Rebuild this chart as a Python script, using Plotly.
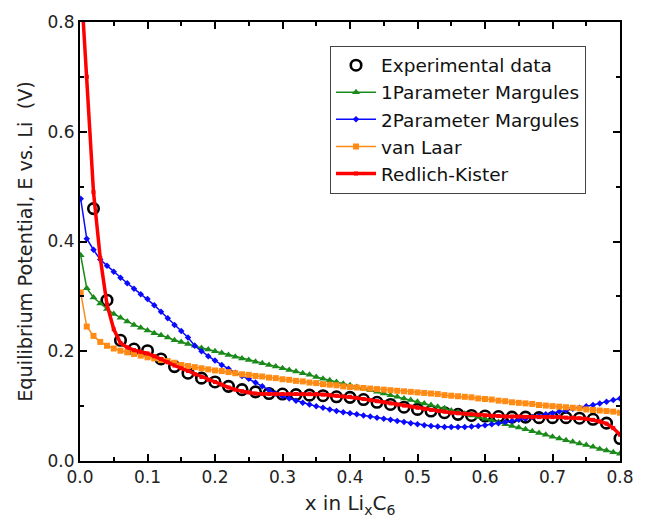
import plotly.graph_objects as go

# Experimental data
x_exp = [0.02, 0.04, 0.06, 0.08, 0.10, 0.12, 0.14, 0.16, 0.18, 0.20,
         0.22, 0.24, 0.26, 0.28, 0.30, 0.32, 0.34, 0.36, 0.38, 0.40,
         0.42, 0.44, 0.46, 0.48, 0.50, 0.52, 0.54, 0.56, 0.58, 0.60,
         0.62, 0.64, 0.66, 0.68, 0.70, 0.72, 0.74, 0.76, 0.78, 0.80]
y_exp = [0.460, 0.293, 0.220, 0.204, 0.201, 0.186, 0.172, 0.160, 0.151, 0.144,
         0.136, 0.130, 0.126, 0.123, 0.122, 0.121, 0.120, 0.119, 0.117, 0.116,
         0.112, 0.107, 0.103, 0.098, 0.094, 0.091, 0.088, 0.085, 0.083, 0.082,
         0.081, 0.080, 0.080, 0.079, 0.079, 0.079, 0.078, 0.076, 0.069, 0.041]

# Model grid
x_model = [0.001, 0.01, 0.02, 0.03, 0.04, 0.05, 0.06, 0.07, 0.08, 0.09,
           0.10, 0.11, 0.12, 0.13, 0.14, 0.15, 0.16, 0.17, 0.18, 0.19,
           0.20, 0.21, 0.22, 0.23, 0.24, 0.25, 0.26, 0.27, 0.28, 0.29,
           0.30, 0.31, 0.32, 0.33, 0.34, 0.35, 0.36, 0.37, 0.38, 0.39,
           0.40, 0.41, 0.42, 0.43, 0.44, 0.45, 0.46, 0.47, 0.48, 0.49,
           0.50, 0.51, 0.52, 0.53, 0.54, 0.55, 0.56, 0.57, 0.58, 0.59,
           0.60, 0.61, 0.62, 0.63, 0.64, 0.65, 0.66, 0.67, 0.68, 0.69,
           0.70, 0.71, 0.72, 0.73, 0.74, 0.75, 0.76, 0.77, 0.78, 0.79,
           0.80]

y_margules1 = [0.375, 0.315, 0.298, 0.287, 0.277, 0.268, 0.261, 0.254, 0.248, 0.243,
               0.238, 0.233, 0.229, 0.225, 0.220, 0.217, 0.213, 0.210, 0.206, 0.203,
               0.200, 0.197, 0.193, 0.190, 0.187, 0.184, 0.181, 0.178, 0.175, 0.172,
               0.169, 0.166, 0.163, 0.160, 0.157, 0.153, 0.150, 0.147, 0.144, 0.141,
               0.138, 0.135, 0.132, 0.129, 0.126, 0.123, 0.120, 0.117, 0.114, 0.111,
               0.108, 0.105, 0.102, 0.099, 0.096, 0.092, 0.089, 0.086, 0.083, 0.080,
               0.077, 0.074, 0.071, 0.067, 0.064, 0.061, 0.058, 0.054, 0.051, 0.048,
               0.044, 0.041, 0.038, 0.035, 0.032, 0.029, 0.026, 0.022, 0.019, 0.016,
               0.013]

y_margules2 = [0.478, 0.405, 0.385, 0.367, 0.356, 0.345, 0.334, 0.324, 0.314, 0.304,
               0.295, 0.284, 0.272, 0.260, 0.248, 0.237, 0.225, 0.210, 0.200, 0.191,
               0.183, 0.175, 0.168, 0.161, 0.155, 0.150, 0.143, 0.136, 0.129, 0.123,
               0.118, 0.114, 0.110, 0.106, 0.103, 0.100, 0.097, 0.094, 0.091, 0.089,
               0.087, 0.085, 0.083, 0.081, 0.079, 0.077, 0.075, 0.073, 0.071, 0.069,
               0.067, 0.065, 0.064, 0.063, 0.062, 0.062, 0.062, 0.062, 0.063, 0.064,
               0.065, 0.067, 0.069, 0.071, 0.073, 0.075, 0.077, 0.080, 0.082, 0.085,
               0.087, 0.090, 0.092, 0.095, 0.097, 0.100, 0.102, 0.105, 0.108, 0.111,
               0.114]

y_vanlaar = [0.307, 0.245, 0.228, 0.217, 0.210, 0.205, 0.201, 0.198, 0.195, 0.192,
             0.189, 0.187, 0.184, 0.182, 0.179, 0.175, 0.173, 0.171, 0.169, 0.167,
             0.165, 0.164, 0.162, 0.160, 0.158, 0.157, 0.155, 0.154, 0.152, 0.151,
             0.149, 0.148, 0.146, 0.145, 0.143, 0.142, 0.140, 0.139, 0.138, 0.136,
             0.135, 0.134, 0.133, 0.132, 0.131, 0.130, 0.129, 0.128, 0.127, 0.126,
             0.125, 0.124, 0.123, 0.122, 0.120, 0.119, 0.118, 0.117, 0.116, 0.114,
             0.113, 0.112, 0.110, 0.109, 0.107, 0.106, 0.105, 0.104, 0.102, 0.101,
             0.100, 0.099, 0.098, 0.097, 0.096, 0.094, 0.093, 0.092, 0.091, 0.090,
             0.088]

y_redlich = [0.880, 0.700, 0.490, 0.370, 0.285, 0.240, 0.215, 0.207, 0.202, 0.199,
             0.196, 0.191, 0.186, 0.180, 0.174, 0.169, 0.164, 0.158, 0.153, 0.148,
             0.144, 0.139, 0.134, 0.130, 0.127, 0.125, 0.123, 0.122, 0.122, 0.122,
             0.122, 0.122, 0.122, 0.122, 0.122, 0.122, 0.121, 0.120, 0.119, 0.118,
             0.117, 0.115, 0.113, 0.111, 0.109, 0.107, 0.105, 0.103, 0.101, 0.099,
             0.097, 0.095, 0.093, 0.091, 0.090, 0.088, 0.087, 0.086, 0.085, 0.084,
             0.083, 0.082, 0.082, 0.081, 0.081, 0.081, 0.080, 0.080, 0.080, 0.080,
             0.080, 0.080, 0.079, 0.079, 0.078, 0.077, 0.075, 0.072, 0.068, 0.060,
             0.048]

x_ticks = [0.0, 0.1, 0.2, 0.3, 0.4, 0.5, 0.6, 0.7, 0.8]
y_ticks = [0.0, 0.2, 0.4, 0.6, 0.8]

FONT = "DejaVu Sans, Arial, sans-serif"

fig = go.Figure()
fig.add_trace(go.Scatter(
    x=x_exp, y=y_exp, mode="markers", name="Experimental data",
    marker=dict(symbol="circle-open", size=10.5, color="black", line=dict(width=2.6, color="black"))))
fig.add_trace(go.Scatter(
    x=x_model, y=y_margules1, mode="lines+markers", name="1Parameter Margules",
    line=dict(color="#1a8a1a", width=1.5),
    marker=dict(symbol="triangle-up", size=7, color="#1a8a1a")))
fig.add_trace(go.Scatter(
    x=x_model, y=y_margules2, mode="lines+markers", name="2Parameter Margules",
    line=dict(color="#0a0aff", width=1.5),
    marker=dict(symbol="diamond", size=5, color="#0a0aff")))
fig.add_trace(go.Scatter(
    x=x_model, y=y_vanlaar, mode="lines+markers", name="van Laar",
    line=dict(color="#ff8a14", width=1.5),
    marker=dict(symbol="square", size=6, color="#ff8a14")))
fig.add_trace(go.Scatter(
    x=x_model, y=y_redlich, mode="lines+markers", name="Redlich-Kister",
    line=dict(color="#ff0000", width=3.5),
    marker=dict(symbol="square", size=4, color="#ff0000")))

axis_common = dict(
    showline=True, linecolor="black", linewidth=2, mirror="ticks",
    ticks="inside", ticklen=7, tickwidth=1.5, tickcolor="black",
    showgrid=False, zeroline=False,
    tickfont=dict(family=FONT, size=17, color="#222"),
)

fig.update_xaxes(
    range=[0, 0.8], tickvals=x_ticks, tickformat=".1f",
    minor=dict(dtick=0.05, ticks="inside", ticklen=4, tickwidth=1.5, tickcolor="black"),
    title=dict(text="x in Li<sub>x</sub>C<sub>6</sub>", font=dict(family=FONT, size=20, color="#222"), standoff=10),
    **axis_common)
fig.update_yaxes(
    range=[0, 0.8], tickvals=y_ticks, tickformat=".1f",
    minor=dict(dtick=0.1, ticks="inside", ticklen=4, tickwidth=1.5, tickcolor="black"),
    title=dict(text="Equilibrium Potential, E vs. Li\u00a0 (V)\u00a0\u00a0\u00a0",
               font=dict(family=FONT, size=19.3, color="#222"), standoff=10),
    **axis_common)

fig.update_layout(
    width=646, height=523,
    margin=dict(l=80, r=13, t=18, b=59),
    plot_bgcolor="white", paper_bgcolor="white",
    showlegend=True,
    legend=dict(
        x=0.463, y=0.946, xanchor="left", yanchor="top",
        bgcolor="white", bordercolor="#444", borderwidth=1,
        font=dict(family=FONT, size=18.5, color="#111"),
        itemwidth=40, tracegroupgap=0,
    ),
)

fig.write_html("out.html")
